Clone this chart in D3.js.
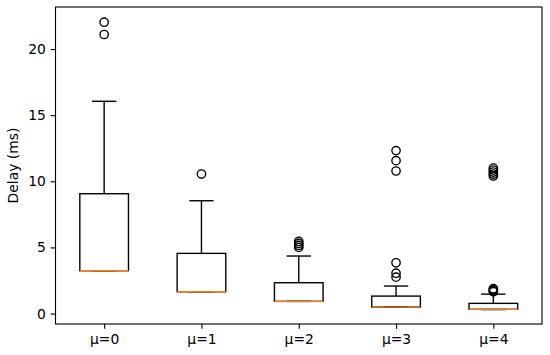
<!DOCTYPE html>
<html>
<head>
<meta charset="utf-8">
<script src="https://cdn.jsdelivr.net/npm/d3@7"></script>
<style>
  body { margin: 0; background: #fff; }
  svg { font-family: "DejaVu Sans", sans-serif; }
</style>
</head>
<body>
<div id="chart"></div>
<script>
// values
var categories = ["μ=0", "μ=1", "μ=2", "μ=3", "μ=4"];
var q1 = [3.24, 1.65, 0.92, 0.49, 0.32];
var medians = [3.24, 1.65, 0.92, 0.49, 0.32];
var q3 = [9.06, 4.55, 2.33, 1.32, 0.77];
var whiskerLow = [3.24, 1.65, 0.92, 0.49, 0.30];
var whiskerHigh = [16.05, 8.53, 4.35, 2.08, 1.47];
var outliers = [
	[21.1, 22.03],
	[10.55],
	[5.0, 5.15, 5.3, 5.45],
	[2.75, 3.05, 3.84, 10.78, 11.56, 12.32],
	[1.65, 1.72, 1.8, 1.88, 10.4, 10.55, 10.7, 10.85, 11.0]
];
var yTicks = [0, 5, 10, 15, 20];

var width = 550,
	height = 355,
	margin = { top: 7, right: 8, bottom: 31, left: 55.5 };

var pt = 100 / 72;

var svg = d3.select("#chart").append("svg")
	.attr("width", width)
	.attr("height", height);

var plotW = width - margin.left - margin.right,
	plotH = height - margin.top - margin.bottom;

var x = d3.scaleLinear().domain([0.5, 5.5]).range([0, plotW]);
var y = d3.scaleLinear().domain([-0.79, 23.18]).range([plotH, 0]);

var g = svg.append("g")
	.attr("transform", "translate(" + margin.left + "," + margin.top + ")");

var boxW = x(1.5) - x(1);
var capW = x(1.25) - x(1);

categories.forEach(function(c, i) {
	var cx = x(i + 1);
	var bg = g.append("g").attr("stroke", "#000").attr("stroke-width", pt).attr("fill", "none");

	// whiskers
	bg.append("line").attr("x1", cx).attr("x2", cx).attr("y1", y(q3[i])).attr("y2", y(whiskerHigh[i]));
	bg.append("line").attr("x1", cx).attr("x2", cx).attr("y1", y(q1[i])).attr("y2", y(whiskerLow[i]));
	// caps
	bg.append("line").attr("x1", cx - capW / 2).attr("x2", cx + capW / 2)
		.attr("y1", y(whiskerHigh[i])).attr("y2", y(whiskerHigh[i]));
	bg.append("line").attr("x1", cx - capW / 2).attr("x2", cx + capW / 2)
		.attr("y1", y(whiskerLow[i])).attr("y2", y(whiskerLow[i]));
	// box
	bg.append("rect")
		.attr("x", cx - boxW / 2)
		.attr("width", boxW)
		.attr("y", y(q3[i]))
		.attr("height", y(q1[i]) - y(q3[i]));
	// median
	g.append("line")
		.attr("x1", cx - boxW / 2).attr("x2", cx + boxW / 2)
		.attr("y1", y(medians[i])).attr("y2", y(medians[i]))
		.attr("stroke", "#ff7f0e").attr("stroke-width", pt);
	// fliers
	g.selectAll(null).data(outliers[i]).enter().append("circle")
		.attr("cx", cx)
		.attr("cy", function(d) { return y(d); })
		.attr("r", 3 * pt)
		.attr("fill", "none")
		.attr("stroke", "#000")
		.attr("stroke-width", pt);
});

// axes
var xAxis = d3.axisBottom(x)
	.tickValues([1, 2, 3, 4, 5])
	.tickFormat(function(d) { return categories[d - 1]; })
	.tickSize(3.5 * pt)
	.tickPadding(3.5 * pt);

var yAxis = d3.axisLeft(y)
	.tickValues(yTicks)
	.tickSize(3.5 * pt)
	.tickPadding(3.5 * pt);

var gx = g.append("g").attr("transform", "translate(0," + plotH + ")").call(xAxis);
var gy = g.append("g").call(yAxis);

[gx, gy].forEach(function(a) {
	a.select(".domain").remove();
	a.selectAll(".tick line").attr("stroke", "#000").attr("stroke-width", 0.8 * pt);
	a.selectAll(".tick text")
		.attr("fill", "#000")
		.style("font-size", (10 * pt) + "px")
		.style("font-family", "'DejaVu Sans', sans-serif");
});
gx.selectAll(".tick text").attr("dy", "0.76em");

// frame
g.append("rect")
	.attr("width", plotW)
	.attr("height", plotH)
	.attr("fill", "none")
	.attr("stroke", "#000")
	.attr("stroke-width", 0.8 * pt);

// y label
svg.append("text")
	.attr("transform", "rotate(-90)")
	.attr("x", -(margin.top + plotH / 2))
	.attr("y", 13)
	.attr("text-anchor", "middle")
	.attr("dominant-baseline", "central")
	.style("font-size", (10 * pt) + "px")
	.text("Delay (ms)");
</script>
</body>
</html>
